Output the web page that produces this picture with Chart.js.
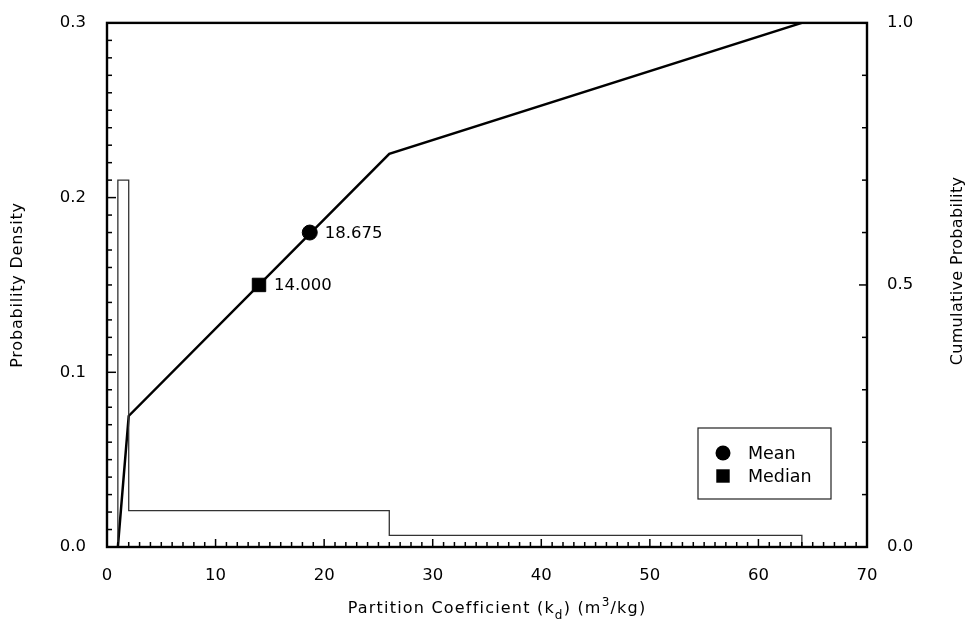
<!DOCTYPE html>
<html>
<head>
<meta charset="utf-8">
<script src="https://cdn.jsdelivr.net/npm/chart.js"></script>
<style>
  html, body { margin: 0; padding: 0; background: #fff; }
  #wrap { width: 971px; height: 636px; }
</style>
</head>
<body>
<div id="wrap"><canvas id="kdChart"></canvas></div>
<script>
// histogram bins (kd, m3/kg) and their probability densities
const binEdges = [1, 2, 26, 64];
const binDensity = [0.21, 0.0208, 0.0066];

// cumulative distribution corner points
const cdfKd = [1, 2, 26, 64];
const cdfProb = [0, 0.25, 0.75, 1.0];

// summary statistics
const meanKd = 18.675;
const meanProb = 0.6;
const medianKd = 14.0;
const medianProb = 0.5;

const FONT = '"DejaVu Sans", sans-serif';

// outline of the histogram as one stepped path
const histPoints = [{ x: binEdges[0], y: 0 }];
binDensity.forEach((d, i) => {
  histPoints.push({ x: binEdges[i], y: d });
  histPoints.push({ x: binEdges[i + 1], y: d });
});
histPoints.push({ x: binEdges[binEdges.length - 1], y: 0 });

const cdfPoints = cdfKd.map((x, i) => ({ x, y: cdfProb[i] }));

function line(ctx, x1, y1, x2, y2) {
  ctx.beginPath();
  ctx.moveTo(x1, y1);
  ctx.lineTo(x2, y2);
  ctx.stroke();
}

// frame + inward tick marks
const frameTicks = {
  id: 'frameTicks',
  afterDatasetsDraw(chart) {
    const { ctx, chartArea: a, scales } = chart;
    ctx.save();
    ctx.strokeStyle = '#000';
    ctx.lineWidth = 2.4;
    ctx.strokeRect(a.left, a.top, a.width, a.height);
    ctx.lineWidth = 1.5;
    for (let v = 1; v < 70; v++) {
      const px = scales.x.getPixelForValue(v);
      line(ctx, px, a.bottom, px, a.bottom - (v % 10 === 0 ? 8 : 5));
    }
    for (let i = 1; i < 30; i++) {
      const py = scales.y.getPixelForValue(i / 100);
      line(ctx, a.left, py, a.left + (i % 10 === 0 ? 9 : 5), py);
    }
    for (let i = 1; i < 10; i++) {
      const py = scales.y2.getPixelForValue(i / 10);
      line(ctx, a.right, py, a.right - (i === 5 ? 8 : 5), py);
    }
    ctx.restore();
  }
};

function spacedText(ctx, txt, x, y, spacing) {
  ctx.letterSpacing = spacing + 'px';
  ctx.fillText(txt, x, y);
  ctx.letterSpacing = '0px';
}

// axis titles, value labels and legend
const textLayer = {
  id: 'textLayer',
  afterDraw(chart) {
    const { ctx, chartArea: a } = chart;
    ctx.save();
    ctx.fillStyle = '#000';
    ctx.textBaseline = 'middle';

    // rotated y titles
    ctx.font = '16px ' + FONT;
    ctx.textAlign = 'center';
    ctx.save();
    ctx.translate(18, 285);
    ctx.rotate(-Math.PI / 2);
    spacedText(ctx, 'Probability Density', 0, 0, 0.8);
    ctx.restore();
    ctx.save();
    ctx.translate(958, 271);
    ctx.rotate(-Math.PI / 2);
    spacedText(ctx, 'Cumulative Probability', 0, 0, 0.35);
    ctx.restore();

    // x title with subscript and superscript
    const parts = [
      { t: 'Partition Coefficient (k', s: 16, dy: 0 },
      { t: 'd', s: 12, dy: 6 },
      { t: ') (m', s: 16, dy: 0 },
      { t: '3', s: 12, dy: -7 },
      { t: '/kg)', s: 16, dy: 0 }
    ];
    const sp = 1.2;
    ctx.textAlign = 'left';
    ctx.textBaseline = 'alphabetic';
    ctx.letterSpacing = sp + 'px';
    let total = 0;
    parts.forEach(p => { ctx.font = p.s + 'px ' + FONT; p.w = ctx.measureText(p.t).width; total += p.w; });
    let x = 497 - total / 2;
    parts.forEach(p => {
      ctx.font = p.s + 'px ' + FONT;
      ctx.fillText(p.t, x, 613 + p.dy);
      x += p.w;
    });
    ctx.letterSpacing = '0px';

    // value labels beside the markers
    ctx.font = '16.5px ' + FONT;
    ctx.textBaseline = 'middle';
    [[2, meanKd.toFixed(3)], [3, medianKd.toFixed(3)]].forEach(([idx, txt]) => {
      const pt = chart.getDatasetMeta(idx).data[0];
      ctx.fillText(txt, pt.x + 15, pt.y + 1);
    });

    // legend box in the lower right of the plot
    const bx = a.right - 169, by = a.bottom - 119, bw = 133, bh = 71;
    ctx.lineWidth = 1.2;
    ctx.strokeStyle = '#222';
    ctx.strokeRect(bx, by, bw, bh);
    ctx.font = '17.5px ' + FONT;
    [[2, 'Mean', 25], [3, 'Median', 48]].forEach(([idx, label, off]) => {
      const ds = chart.data.datasets[idx];
      Chart.helpers.drawPoint(ctx, {
        pointStyle: ds.pointStyle, radius: ds.pointRadius, rotation: 0,
        borderWidth: 0, backgroundColor: '#000', borderColor: '#000'
      }, bx + 25, by + off);
      ctx.fillStyle = '#000';
      ctx.fillText(label, bx + 50, by + off + 1);
    });
    ctx.restore();
  }
};

const tickFont = { family: FONT, size: 16.5 };

new Chart(document.getElementById('kdChart'), {
  type: 'line',
  data: {
    datasets: [
      {
        label: 'Density',
        data: histPoints,
        yAxisID: 'y',
        borderColor: '#333',
        borderWidth: 1.3,
        pointRadius: 0,
        tension: 0
      },
      {
        label: 'Cumulative',
        data: cdfPoints,
        yAxisID: 'y2',
        borderColor: '#000',
        borderWidth: 2.5,
        pointRadius: 0,
        tension: 0
      },
      {
        type: 'scatter',
        label: 'Mean',
        data: [{ x: meanKd, y: meanProb }],
        yAxisID: 'y2',
        pointStyle: 'circle',
        pointRadius: 7.5,
        backgroundColor: '#000',
        borderColor: '#000'
      },
      {
        type: 'scatter',
        label: 'Median',
        data: [{ x: medianKd, y: medianProb }],
        yAxisID: 'y2',
        pointStyle: 'rect',
        pointRadius: 9.5,
        backgroundColor: '#000',
        borderColor: '#000'
      }
    ]
  },
  options: {
    responsive: true,
    maintainAspectRatio: false,
    animation: false,
    layout: { padding: { top: 12, left: 0, right: 0, bottom: 0 } },
    plugins: {
      legend: { display: false },
      tooltip: { enabled: false }
    },
    scales: {
      x: {
        type: 'linear',
        position: 'bottom',
        min: 0,
        max: 70,
        grid: { display: false },
        border: { display: false },
        ticks: { stepSize: 10, padding: 11, maxRotation: 0, color: '#000', font: tickFont },
        afterFit(s) { s.height = 89; }
      },
      y: {
        position: 'left',
        min: 0,
        max: 0.3,
        grid: { display: false },
        border: { display: false },
        ticks: { stepSize: 0.1, padding: 13, color: '#000', font: tickFont, callback: v => v.toFixed(1) },
        afterFit(s) { s.width = 107; }
      },
      y2: {
        position: 'right',
        min: 0,
        max: 1,
        grid: { display: false },
        border: { display: false },
        ticks: { stepSize: 0.5, padding: 12, color: '#000', font: tickFont, callback: v => v.toFixed(1) },
        afterFit(s) { s.width = 104; }
      }
    }
  },
  plugins: [frameTicks, textLayer]
});
</script>
</body>
</html>
